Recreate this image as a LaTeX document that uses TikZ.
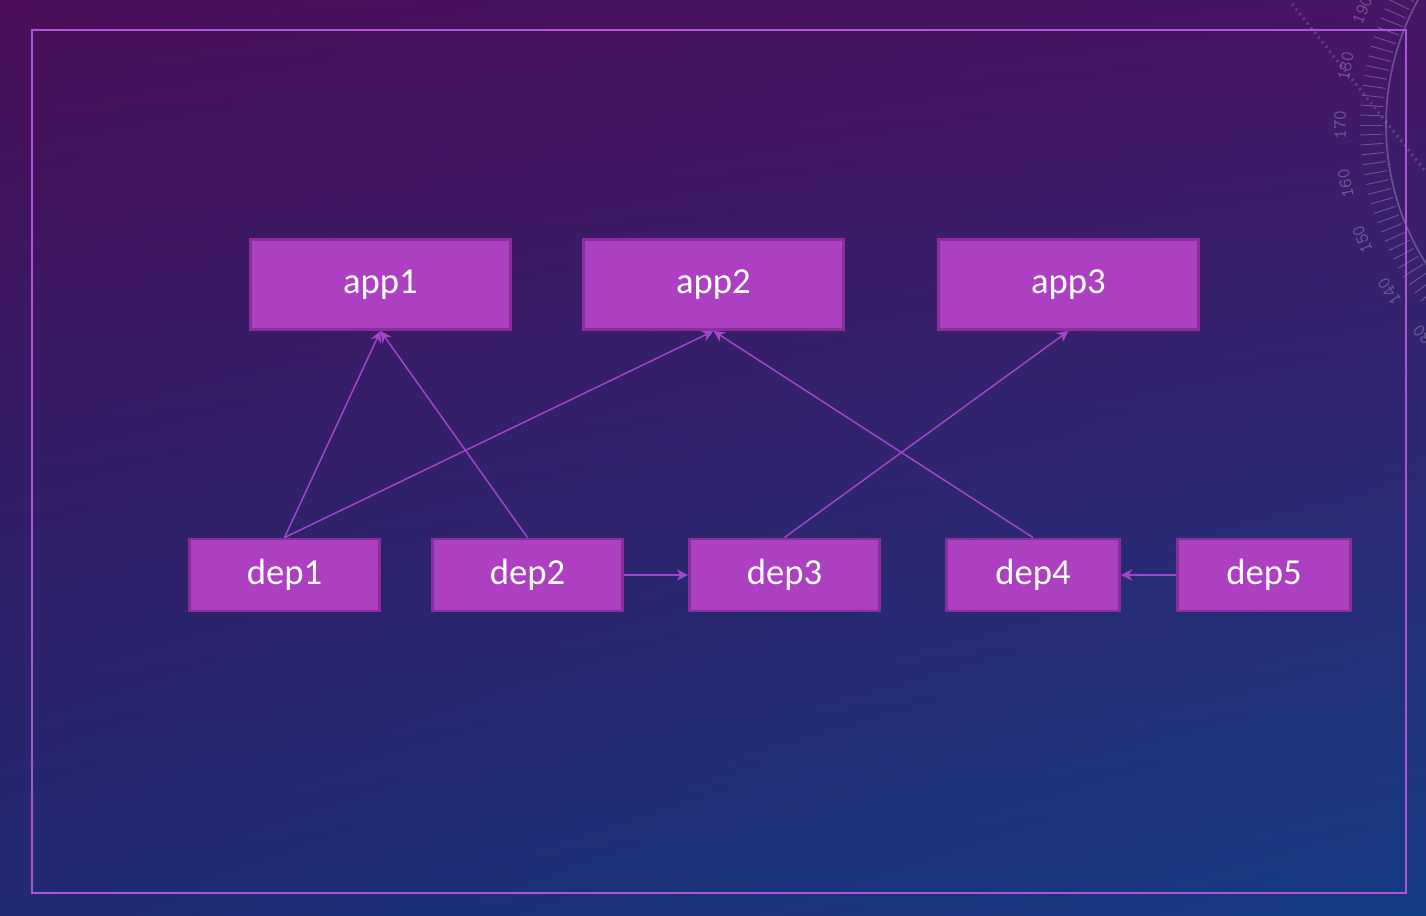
\documentclass[tikz,border=0pt]{standalone}
\usepackage{fontspec}
\setmainfont{Carlito}
\usepackage{xcolor}
\usetikzlibrary{arrows,arrows.meta,shapes,backgrounds,fit,shadings,calc}

\definecolor{bgul}{HTML}{4A0E58}
\definecolor{bgur}{HTML}{461564}
\definecolor{bgll}{HTML}{202A74}
\definecolor{bglr}{HTML}{143C84}
\definecolor{boxfill}{HTML}{AD40C1}
\definecolor{boxline}{HTML}{8A2E9E}
\definecolor{linkcol}{HTML}{A544CC}
\definecolor{framecol}{HTML}{AE55D6}
\definecolor{dialcol}{HTML}{A898BE}

\begin{document}
\begin{tikzpicture}[x=0.75pt,y=-0.75pt]
      \tikzstyle{appbox}=[draw=boxline, line width=2.2pt, fill=boxfill, text=white, font=\fontsize{27.5}{32}\selectfont, minimum width=195pt, minimum height=67.5pt, inner sep=0pt]
      \tikzstyle{depbox}=[appbox, minimum width=142.5pt, minimum height=54pt]
      \tikzstyle{depbox_small}=[depbox, minimum width=129.75pt]
      \tikzstyle{link}=[draw=linkcol, line width=1.1pt, -{Stealth[length=8.5pt,width=8.5pt]}]
      \tikzstyle{dial}=[draw=dialcol, opacity=0.45]
      \tikzstyle{dial_text}=[text=dialcol, opacity=0.5, font=\ttfamily\fontsize{14}{14}\selectfont, inner sep=0pt]

      % background and frame
      \useasboundingbox (0,0) rectangle (1426,916);
      \shade[upper left=bgul, upper right=bgur, lower left=bgll, lower right=bglr] (0,0) rectangle (1426,916);

      \begin{scope}
        \clip (0,0) rectangle (1426,916);
        \coordinate (dialc) at (1646,125);
        \draw[dial, line width=1.2pt] (dialc) circle (260);
        \foreach \a in {140,142,...,224}
          \draw[dial, line width=0.7pt] ($(dialc)+(\a:263)$) -- ($(dialc)+(\a:286)$);
        \foreach \v in {130,140,...,190}
          \node[dial_text, rotate={90-(\v-170)*1.1}] (dial\v)
            at ($(dialc)+({180+(\v-170)*1.1}:306)$) {\v};
        \draw[dial, line width=2.2pt, dash pattern=on 1.5pt off 3pt, opacity=0.3] (1292,4) -- (1426,172);
      \end{scope}

      \draw[framecol, line width=1.5pt] (32,30) rectangle (1406,893);

      % applications
      \node (app1) [appbox] at (380.5,284.5) {app1};
      \node (app2) [appbox] at (713.5,284.5) {app2};
      \node (app3) [appbox] at (1068.5,284.5) {app3};

      % dependencies
      \node (dep1) [depbox] at (284.5,575) {dep1};
      \node (dep2) [depbox] at (527.5,575) {dep2};
      \node (dep3) [depbox] at (784.5,575) {dep3};
      \node (dep4) [depbox_small] at (1033,575) {dep4};
      \node (dep5) [depbox_small] at (1264,575) {dep5};

      \draw[link] (dep1.north) -- (app1.south);
      \draw[link] (dep2.north) -- (app1.south);
      \draw[link] (dep1.north) -- (app2.south);
      \draw[link] (dep4.north) -- (app2.south);
      \draw[link] (dep3.north) -- (app3.south);
      \draw[link] (dep2.east) -- (dep3.west);
      \draw[link] (dep5.west) -- (dep4.east);
\end{tikzpicture}
\end{document}
